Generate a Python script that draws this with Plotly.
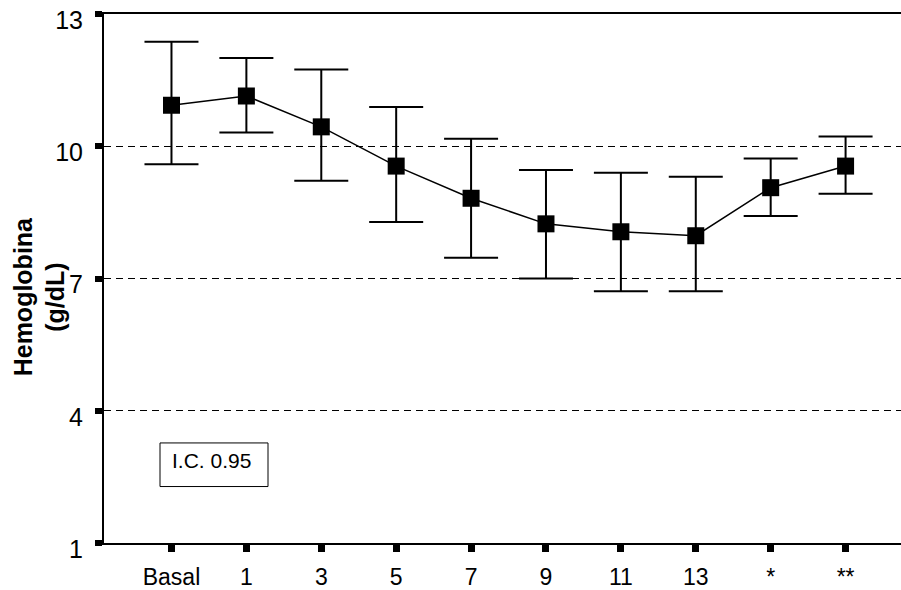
import plotly.graph_objects as go

categories = ["Basal", "1", "3", "5", "7", "9", "11", "13", "*", "**"]
means = [10.93, 11.14, 10.44, 9.55, 8.82, 8.24, 8.06, 7.97, 9.06, 9.55]
upper = [12.37, 12.00, 11.74, 10.89, 10.17, 9.46, 9.40, 9.31, 9.72, 10.22]
lower = [9.59, 10.31, 9.22, 8.28, 7.47, 7.00, 6.71, 6.71, 8.42, 8.92]
y_ticks = [1, 4, 7, 10, 13]

xpos = list(range(len(categories)))
err_plus = [u - m for u, m in zip(upper, means)]
err_minus = [m - l for m, l in zip(means, lower)]

FONT = "Liberation Sans, Arial, sans-serif"

fig = go.Figure()
fig.add_trace(go.Scatter(
    x=xpos, y=means, mode="lines+markers",
    line=dict(color="black", width=1.5),
    marker=dict(symbol="square", size=17, color="black"),
    error_y=dict(type="data", symmetric=False, array=err_plus, arrayminus=err_minus,
                 color="black", thickness=2, width=27),
    showlegend=False,
))

W, H = 901, 590
L, R, T, B = 104, 0, 14, 42
pw, ph = W - L - R, H - T - B

fig.update_layout(
    width=W, height=H,
    margin=dict(l=L, r=R, t=T, b=B, pad=0),
    paper_bgcolor="white", plot_bgcolor="white",
    font=dict(family=FONT, color="black"),
    xaxis=dict(
        range=[-0.901, -0.901 + pw / 74.9],
        tickvals=xpos, ticktext=categories,
        showgrid=False, zeroline=False,
        showline=True, linecolor="black", linewidth=2, mirror=True,
        ticks="outside", ticklen=7, tickwidth=7, tickcolor="black",
        ticklabelstandoff=5,
        tickfont=dict(size=23, family=FONT, color="black"),
    ),
    yaxis=dict(
        range=[1, 13], tickvals=y_ticks,
        showgrid=True, gridcolor="black", gridwidth=1, griddash="7px,5px",
        zeroline=False,
        showline=True, linecolor="black", linewidth=2,
        ticks="outside", ticklen=7, tickwidth=6, tickcolor="black",
        ticklabelstandoff=7, ticklabelshift=6,
        tickfont=dict(size=25, family=FONT, color="black"),
    ),
)

# I.C. box
fig.add_shape(type="rect", xref="paper", yref="paper",
              x0=(160 - L) / pw, x1=(268 - L) / pw,
              y0=(H - B - 491) / ph, y1=(H - B - 447) / ph,
              line=dict(color="black", width=1), fillcolor="white")
fig.add_annotation(xref="paper", yref="paper", x=(170 - L) / pw, y=(H - B - 465) / ph,
                   xanchor="left", yanchor="middle", showarrow=False,
                   text="I.C. 0.95", font=dict(size=21, family=FONT, color="black"))

# Y title
fig.add_annotation(xref="paper", yref="paper", x=(39 - L) / pw, y=(H - B - 300) / ph,
                   xanchor="center", yanchor="middle", showarrow=False, textangle=-90,
                   text="<b>Hemoglobina<br>(g/dL)</b>",
                   font=dict(size=25, family=FONT, color="black"))

fig.write_html("out.html", post_script="document.body.style.margin='0';",
               config={"displayModeBar": False})
